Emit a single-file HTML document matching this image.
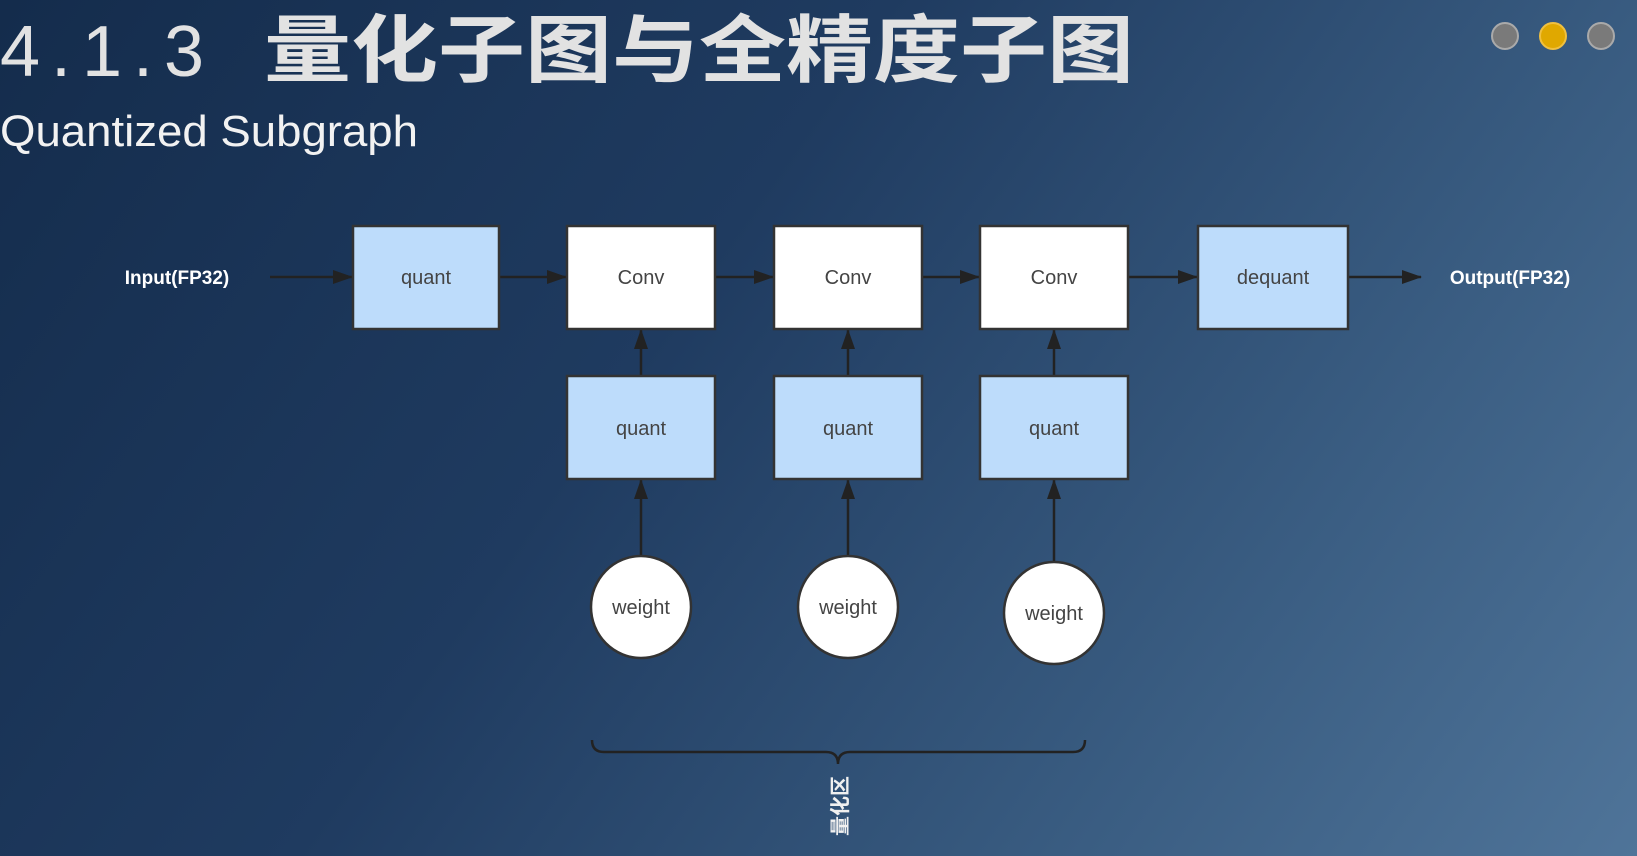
<!DOCTYPE html>
<html><head><meta charset="utf-8"><style>
body{margin:0;width:1637px;height:856px;overflow:hidden;background:linear-gradient(125deg,#142c4c 0%,#1f3b60 40%,#3a5d82 75%,#4f7499 100%);font-family:"Liberation Sans","Noto Sans CJK SC",sans-serif;}
</style></head><body>
<svg width="1637" height="856" xmlns="http://www.w3.org/2000/svg" style="position:absolute;left:0;top:0">
<defs><marker id="b" markerWidth="20" markerHeight="14" refX="19" refY="7" orient="auto" markerUnits="userSpaceOnUse"><path d="M0,0 L20,7 L0,14 z" fill="#222"/></marker></defs>
<text x="0" y="76" font-size="72" fill="#e2e2e2" textLength="204" lengthAdjust="spacing">4.1.3</text>
<text x="264" y="76" font-size="74" font-weight="bold" fill="#e2e2e2" font-family="Noto Sans CJK SC,sans-serif" textLength="870" lengthAdjust="spacingAndGlyphs">量化子图与全精度子图</text>
<text x="0" y="146" font-size="44" fill="#f2f2f2" textLength="418" lengthAdjust="spacingAndGlyphs">Quantized Subgraph</text>
<circle cx="1505" cy="36" r="13" fill="#7a7a7a" stroke="#aaa" stroke-width="2"/>
<circle cx="1553" cy="36" r="13" fill="#e0a800" stroke="#f0c040" stroke-width="2"/>
<circle cx="1601" cy="36" r="13" fill="#7a7a7a" stroke="#aaa" stroke-width="2"/>
<g stroke="#222" stroke-width="2.5" fill="none">
<line x1="270" y1="277" x2="352" y2="277" marker-end="url(#b)"/>
<line x1="500" y1="277" x2="566" y2="277" marker-end="url(#b)"/>
<line x1="716" y1="277" x2="773" y2="277" marker-end="url(#b)"/>
<line x1="923" y1="277" x2="979" y2="277" marker-end="url(#b)"/>
<line x1="1129" y1="277" x2="1197" y2="277" marker-end="url(#b)"/>
<line x1="1349" y1="277" x2="1421" y2="277" marker-end="url(#b)"/>
<line x1="641" y1="376" x2="641" y2="330" marker-end="url(#b)"/>
<line x1="848" y1="376" x2="848" y2="330" marker-end="url(#b)"/>
<line x1="1054" y1="376" x2="1054" y2="330" marker-end="url(#b)"/>
<line x1="641" y1="556" x2="641" y2="480" marker-end="url(#b)"/>
<line x1="848" y1="556" x2="848" y2="480" marker-end="url(#b)"/>
<line x1="1054" y1="562" x2="1054" y2="480" marker-end="url(#b)"/>
<path d="M592,740 q0,12 12,12 H826 q12,0 12,12 q0,-12 12,-12 H1073 q12,0 12,-12"/>
</g>
<g stroke="#333" stroke-width="2.5">
<rect x="353" y="226" width="146" height="103" fill="#bddcfb"/>
<rect x="567" y="226" width="148" height="103" fill="#fff"/>
<rect x="774" y="226" width="148" height="103" fill="#fff"/>
<rect x="980" y="226" width="148" height="103" fill="#fff"/>
<rect x="1198" y="226" width="150" height="103" fill="#bddcfb"/>
<rect x="567" y="376" width="148" height="103" fill="#bddcfb"/>
<rect x="774" y="376" width="148" height="103" fill="#bddcfb"/>
<rect x="980" y="376" width="148" height="103" fill="#bddcfb"/>
<ellipse cx="641" cy="607" rx="50" ry="51" fill="#fff"/>
<ellipse cx="848" cy="607" rx="50" ry="51" fill="#fff"/>
<ellipse cx="1054" cy="613" rx="50" ry="51" fill="#fff"/>
</g>
<g font-size="20" fill="#444" text-anchor="middle">
<text x="426" y="284">quant</text>
<text x="641" y="284">Conv</text>
<text x="848" y="284">Conv</text>
<text x="1054" y="284">Conv</text>
<text x="1273" y="284">dequant</text>
<text x="641" y="435">quant</text>
<text x="848" y="435">quant</text>
<text x="1054" y="435">quant</text>
<text x="641" y="614">weight</text>
<text x="848" y="614">weight</text>
<text x="1054" y="620">weight</text>
</g>
<g font-size="19" fill="#fff" font-weight="bold" text-anchor="middle">
<text x="177" y="284">Input(FP32)</text>
<text x="1510" y="284">Output(FP32)</text>
</g>
<text x="0" y="0" font-size="20" fill="#f0f0f0" font-weight="bold" text-anchor="middle" transform="translate(847,806) rotate(-90)">量化区</text>
</svg>
</body></html>
